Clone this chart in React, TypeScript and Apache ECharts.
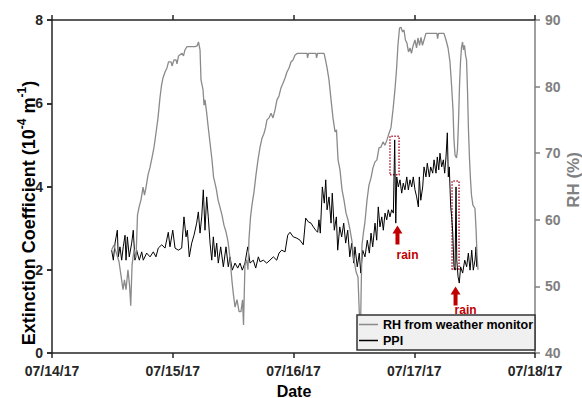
import React, { useEffect, useRef } from "react";
import * as echarts from "echarts";

// x values are days since 07/14/17 00:00
const dateLabels = ["07/14/17", "07/15/17", "07/16/17", "07/17/17", "07/18/17"];

const ppiTime = [0.494,0.508,0.522,0.541,0.549,0.563,0.577,0.590,0.605,0.613,0.624,0.640,0.660,0.673,0.687,0.701,0.723,0.743,0.756,0.784,0.812,0.839,0.861,0.880,0.909,0.936,0.963,0.977,1.000,1.019,1.046,1.074,1.093,1.110,1.121,1.137,1.157,1.176,1.198,1.212,1.226,1.240,1.253,1.267,1.281,1.294,1.309,1.323,1.336,1.350,1.364,1.377,1.397,1.419,1.441,1.460,1.474,1.493,1.516,1.538,1.557,1.576,1.598,1.621,1.640,1.667,1.687,1.709,1.723,1.750,1.778,1.805,1.833,1.861,1.880,1.902,1.930,1.952,1.971,1.998,2.027,2.054,2.081,2.101,2.123,2.145,2.164,2.184,2.200,2.211,2.222,2.239,2.255,2.267,2.278,2.294,2.311,2.321,2.338,2.355,2.366,2.383,2.399,2.416,2.432,2.449,2.466,2.482,2.499,2.509,2.528,2.545,2.557,2.573,2.592,2.611,2.628,2.642,2.656,2.675,2.689,2.702,2.716,2.731,2.744,2.758,2.772,2.785,2.799,2.813,2.827,2.838,2.847,2.855,2.868,2.882,2.896,2.909,2.923,2.938,2.951,2.965,2.979,2.992,3.006,3.020,3.034,3.042,3.054,3.070,3.081,3.097,3.108,3.125,3.136,3.153,3.164,3.180,3.191,3.203,3.213,3.227,3.241,3.252,3.263,3.274,3.282,3.290,3.302,3.310,3.319,3.329,3.338,3.346,3.352,3.363,3.373,3.384,3.401,3.418,3.434,3.448,3.462,3.476,3.489,3.503,3.512,3.517];

const ppiValue = [2.47,2.23,2.64,2.95,2.31,2.55,2.23,2.55,2.83,2.23,2.79,2.31,2.64,2.95,2.23,2.47,2.23,2.43,2.23,2.40,2.31,2.43,2.31,2.52,2.60,2.52,2.90,2.55,2.95,2.52,2.47,2.52,3.27,2.79,2.95,2.31,2.64,2.83,3.12,3.39,2.88,3.27,3.92,2.95,3.75,3.27,2.64,2.23,2.79,2.31,2.64,2.16,2.55,2.07,2.55,2.07,2.31,1.99,2.16,2.04,2.16,1.99,2.16,2.55,2.16,2.23,2.04,2.31,2.19,2.23,2.16,2.23,2.31,2.23,2.40,2.47,2.43,2.83,2.90,2.79,2.76,2.71,2.60,3.24,3.15,3.12,3.03,2.95,2.90,3.20,2.88,3.99,3.60,4.16,3.44,3.75,3.12,3.84,2.95,3.27,2.47,3.03,2.79,3.12,2.64,2.95,2.31,2.64,2.16,2.55,2.07,2.40,1.92,2.47,2.31,2.71,2.40,2.88,2.55,3.12,2.71,3.51,3.03,3.27,2.95,3.36,3.20,3.44,3.27,3.44,3.36,5.12,3.12,4.23,3.99,4.16,3.84,4.08,3.92,4.23,3.92,4.16,3.99,4.23,3.92,3.75,3.51,4.23,3.67,3.99,4.47,4.23,4.56,4.23,4.47,4.32,4.64,4.32,4.71,4.40,4.80,4.47,4.64,4.32,4.71,5.29,4.23,4.47,3.51,3.27,2.88,2.07,1.99,3.99,2.23,1.83,1.68,2.07,1.92,2.23,2.07,2.40,1.99,2.47,1.99,2.23,2.55,2.07];

const rhTime = [0.494,0.513,0.538,0.555,0.571,0.588,0.600,0.613,0.629,0.642,0.652,0.663,0.679,0.696,0.708,0.721,0.737,0.754,0.766,0.778,0.795,0.812,0.828,0.845,0.861,0.878,0.894,0.907,0.919,0.936,0.952,0.965,0.986,0.994,1.010,1.027,1.035,1.048,1.077,1.089,1.101,1.118,1.184,1.201,1.213,1.226,1.234,1.251,1.259,1.267,1.280,1.292,1.309,1.325,1.338,1.350,1.362,1.375,1.391,1.408,1.424,1.441,1.458,1.474,1.491,1.503,1.516,1.532,1.549,1.565,1.578,1.586,1.598,1.611,1.623,1.631,1.644,1.656,1.673,1.689,1.706,1.723,1.740,1.756,1.768,1.780,1.797,1.814,1.830,1.847,1.863,1.880,1.896,1.913,1.930,1.946,1.963,1.979,1.996,2.012,2.033,2.112,2.116,2.124,2.186,2.191,2.199,2.253,2.265,2.278,2.294,2.311,2.327,2.344,2.356,2.369,2.385,2.402,2.418,2.435,2.451,2.468,2.485,2.501,2.518,2.534,2.547,2.553,2.559,2.567,2.580,2.592,2.609,2.625,2.642,2.658,2.675,2.691,2.708,2.724,2.741,2.757,2.774,2.791,2.807,2.824,2.840,2.853,2.865,2.878,2.890,2.903,2.915,2.927,2.940,2.952,2.965,2.977,2.990,3.006,3.019,3.031,3.044,3.056,3.068,3.081,3.097,3.188,3.193,3.201,3.246,3.263,3.280,3.296,3.309,3.321,3.329,3.338,3.350,3.358,3.367,3.375,3.383,3.391,3.400,3.408,3.416,3.425,3.433,3.441,3.449,3.458,3.466,3.474,3.486,3.503,3.512,3.520,3.528];

const rhValue = [55.5,56.2,54.7,53.7,51.7,49.5,51.0,49.5,52.5,50.2,47.1,53.2,55.5,54.3,60.7,61.9,63.0,64.9,63.7,64.8,66.7,67.9,69.3,70.9,73.0,75.3,78.3,80.2,81.3,82.2,82.8,83.7,83.7,83.1,84.0,84.0,83.4,84.6,85.0,84.6,85.5,86.0,86.0,86.1,86.7,85.5,81.0,79.5,77.2,78.0,76.2,74.2,71.5,69.0,66.4,65.5,64.5,63.0,61.9,60.7,59.2,58.2,56.7,54.3,50.7,48.7,46.9,48.0,46.2,46.2,48.0,44.2,53.2,54.0,52.5,57.0,60.4,62.2,64.2,66.7,69.0,70.9,72.3,73.0,73.8,75.0,75.3,76.0,75.3,76.5,78.0,78.6,79.8,80.5,81.3,82.2,82.8,83.7,84.0,84.7,85.0,85.0,84.3,85.0,85.0,84.3,85.0,85.0,84.0,82.8,81.0,78.0,75.3,73.2,73.5,69.0,67.5,64.5,63.0,61.0,60.0,58.5,56.7,54.0,52.2,51.4,45.0,41.2,48.0,56.2,58.2,59.7,63.0,65.2,66.3,67.8,68.7,69.0,70.8,70.9,71.7,71.2,72.0,73.0,73.8,76.5,79.5,82.5,86.2,88.8,88.9,88.2,88.5,87.0,86.5,85.2,85.8,85.0,86.1,87.0,85.8,87.3,86.2,87.4,86.2,87.0,88.0,88.0,87.2,88.0,88.0,87.0,85.8,83.7,80.2,76.5,72.0,69.7,69.3,70.5,75.0,80.2,83.7,85.8,86.7,85.5,86.2,84.7,84.0,79.5,73.5,69.0,66.0,63.7,62.2,61.7,58.5,54.7,52.5];

// rain annotations (data units: days, extinction coefficient)
const rainBoxes = [
  [[2.799, 4.28], [2.874, 5.21]],
  [[3.313, 2.02], [3.371, 4.13]],
];
const rainArrows = [
  [2.861, 2.835],
  [3.342, 1.369],
];
const rainLabelOffsets = [
  [10, 20],
  [10, 14],
];

const FONT = "'Liberation Sans', Arial, Helvetica, sans-serif";
const DARK = "#262626";
const GRAY = "#808080";
const RH_LINE = "#8a8a8a";
const RED = "#c00000";

export default function App() {
  const ref = useRef<HTMLDivElement>(null);

  useEffect(() => {
    if (!ref.current) return;
    const chart = echarts.init(ref.current, undefined, { renderer: "svg" });

    const ppiData = ppiTime.map((t, i) => [t, ppiValue[i]]);
    const rhData = rhTime.map((t, i) => [t, rhValue[i]]);

    const option: any = {
      animation: false,
      backgroundColor: "#ffffff",
      textStyle: { fontFamily: FONT },
      grid: { left: 52, right: 47, top: 20, bottom: 45, containLabel: false },
      legend: {
        data: ["RH from weather monitor", "PPI"],
        orient: "vertical",
        left: 357,
        top: 315,
        backgroundColor: "#f0f0f0",
        borderColor: "#333333",
        borderWidth: 1.5,
        borderRadius: 0,
        padding: [3, 2, 3, 2],
        itemGap: 3,
        itemWidth: 19,
        itemHeight: 1.5,
        icon: "rect",
        textStyle: { fontFamily: FONT, fontSize: 12.5, fontWeight: "bold", color: "#000" },
      },
      xAxis: [
        {
          type: "value",
          min: 0,
          max: 4,
          interval: 1,
          position: "bottom",
          axisLine: { show: true, onZero: false, lineStyle: { color: DARK, width: 1.5 } },
          axisTick: { show: true, inside: false, length: 5, lineStyle: { color: DARK, width: 1.5 } },
          axisLabel: {
            formatter: (v: number) => dateLabels[Math.round(v)] ?? "",
            fontFamily: FONT,
            fontSize: 14,
            fontWeight: "bold",
            color: DARK,
            margin: 11,
          },
          splitLine: { show: false },
        },
        {
          type: "value",
          min: 0,
          max: 4,
          interval: 1,
          position: "top",
          axisLine: { show: true, onZero: false, lineStyle: { color: DARK, width: 1.5 } },
          axisTick: { show: true, inside: false, length: 5, lineStyle: { color: DARK, width: 1.5 } },
          axisLabel: { show: false },
          splitLine: { show: false },
        },
      ],
      yAxis: [
        {
          type: "value",
          min: 0,
          max: 8,
          interval: 2,
          position: "left",
          axisLine: { show: true, onZero: false, lineStyle: { color: DARK, width: 1.5 } },
          axisTick: { show: true, inside: false, length: 5, lineStyle: { color: DARK, width: 1.5 } },
          axisLabel: { fontFamily: FONT, fontSize: 14, fontWeight: "bold", color: DARK, margin: 9 },
          splitLine: { show: false },
        },
        {
          type: "value",
          min: 40,
          max: 90,
          interval: 10,
          position: "right",
          axisLine: { show: true, onZero: false, lineStyle: { color: GRAY, width: 1.5 } },
          axisTick: { show: true, inside: false, length: 5, lineStyle: { color: GRAY, width: 1.5 } },
          axisLabel: { fontFamily: FONT, fontSize: 14, fontWeight: "bold", color: GRAY, margin: 10 },
          splitLine: { show: false },
        },
        {
          type: "value",
          min: 0,
          max: 8,
          interval: 2,
          position: "right",
          axisLine: { show: false },
          axisTick: { show: true, inside: true, length: 5, lineStyle: { color: DARK, width: 1.5 } },
          axisLabel: { show: false },
          splitLine: { show: false },
        },
      ],
      series: [
        {
          name: "PPI",
          type: "line",
          xAxisIndex: 0,
          yAxisIndex: 0,
          data: ppiData,
          symbol: "none",
          lineStyle: { color: "#000000", width: 1 },
          itemStyle: { color: "#000000" },
          z: 2,
          markArea: {
            silent: true,
            itemStyle: {
              color: "rgba(0,0,0,0)",
              borderColor: "#b02030",
              borderWidth: 1.5,
              borderType: "dotted",
            },
            data: rainBoxes.map((b) => [
              { xAxis: b[0][0], yAxis: b[0][1] },
              { xAxis: b[1][0], yAxis: b[1][1] },
            ]),
          },
          markPoint: {
            silent: true,
            symbol: "path://M5,0 L10,8 L7,8 L7,19 L3,19 L3,8 L0,8 Z",
            symbolSize: [10, 19],
            itemStyle: { color: RED },
            data: rainArrows.map((c, i) => ({
              coord: c,
              label: {
                show: true,
                formatter: "rain",
                position: "inside",
                offset: rainLabelOffsets[i],
                color: RED,
                fontFamily: FONT,
                fontSize: 12,
                fontWeight: "bold",
              },
            })),
          },
        },
        {
          name: "RH from weather monitor",
          type: "line",
          xAxisIndex: 0,
          yAxisIndex: 1,
          data: rhData,
          symbol: "none",
          lineStyle: { color: RH_LINE, width: 1.3 },
          itemStyle: { color: RH_LINE },
          z: 3,
        },
      ],
      graphic: [
        {
          type: "text",
          x: 29,
          y: 213,
          rotation: Math.PI / 2,
          style: {
            text: "{a|Extinction Coefficient (10}{b|-4}{a| m}{b|-1}{a|)}",
            align: "center",
            verticalAlign: "middle",
            fill: "#000",
            rich: {
              a: { fontFamily: FONT, fontSize: 18, fontWeight: "bold", fill: "#000", lineHeight: 26 },
              b: { fontFamily: FONT, fontSize: 12, fontWeight: "bold", fill: "#000", lineHeight: 12, verticalAlign: "top" },
            },
          },
        },
        {
          type: "text",
          x: 573,
          y: 180,
          rotation: Math.PI / 2,
          style: {
            text: "RH (%)",
            align: "center",
            verticalAlign: "middle",
            fill: GRAY,
            font: `bold 17px ${FONT}`,
          },
        },
        {
          type: "text",
          x: 294,
          y: 391,
          style: {
            text: "Date",
            align: "center",
            verticalAlign: "middle",
            fill: "#000",
            font: `bold 16px ${FONT}`,
          },
        },
      ],
    };

    chart.setOption(option);
    return () => chart.dispose();
  }, []);

  return (
    <div
      ref={ref}
      style={{ position: "absolute", left: 0, top: 0, width: 582, height: 398, background: "#fff" }}
    />
  );
}
